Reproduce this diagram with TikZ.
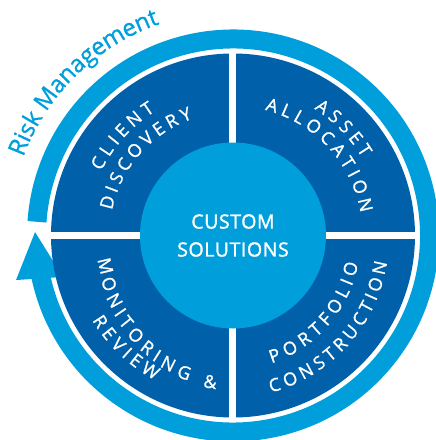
\documentclass[tikz,border=0pt]{standalone}
\usepackage{fontspec}
\setmainfont{Open Sans}[UprightFeatures={FakeBold=1}]
\newfontfamily\hubfont{Open Sans}[LetterSpace=3, UprightFeatures={FakeBold=1.6}]

\definecolor{ringblue}{RGB}{0,159,220}
\definecolor{deepblue}{RGB}{0,96,169}
\newcommand{\quadfont}{\fontsize{18}{20}\selectfont}
\newcommand{\riskfont}{\fontsize{24}{26}\selectfont}

\tikzset{
  arcglyph/.style={inner sep=0pt, outer sep=0pt, anchor=base},
}

% letters set one by one on a circle round the origin
% #1 name, #2 font, #3 radius of letter middles, #4 radius change per degree,
% #5 centre angle, #6 direction (-1 clockwise, 1 anticlockwise), #7 tracking, #8 colour, #9 letters
\newdimen\chw
\newcommand{\measureglyph}[2]{%
  \pgfinterruptpicture\settowidth{\chw}{#1#2}\xdef\cw{\the\chw}%
  \settoheight{\chw}{#1X}\xdef\capht{\the\chw}\endpgfinterruptpicture}
\newcommand{\arcword}[9]{%
  \gdef\wtot{0}%
  \foreach \ch in {#9}{%
    \measureglyph{#2}{\ch}%
    \pgfmathparse{\wtot+\cw+#7}\xdef\wtot{\pgfmathresult}%
  }%
  \pgfmathparse{\wtot-#7}\xdef\wtot{\pgfmathresult}%
  \gdef\wrun{0}%
  \foreach \ch [count=\i] in {#9}{%
    \measureglyph{#2}{\ch}%
    \pgfmathsetmacro\ang{#5+#6*(\wrun+\cw/2-\wtot/2)/#3*57.29578}%
    \pgfmathsetmacro\rad{#3+#4*(\ang-#5)+#6*\capht/2}%
    \node[arcglyph, font=#2, text=#8, rotate=\ang+#6*90] (#1-\i) at (\ang:\rad) {\ch};%
    \pgfmathparse{\wrun+\cw+#7}\xdef\wrun{\pgfmathresult}%
  }%
}

\begin{document}
\begin{tikzpicture}[x=1pt, y=1pt]
    \useasboundingbox (-233,-204.5) rectangle (203,235.5);

    % Outer ring with arrow
    \draw[ringblue, line width=19pt] (192:196.5) arc[start angle=192, end angle=536, radius=196.5];
    \fill[ringblue] (179:198) -- (191.6:221.5) -- (193.7:175) -- cycle;
    \arcword{risk}{\riskfont}{232.5}{0}{134.3}{-1}{0.3}{ringblue}{R,i,s,k,~,M,a,n,a,g,e,m,e,n,t}

    % Wheel and separators
    \node[circle, fill=deepblue, minimum size=364pt, inner sep=0pt] (wheel) at (0,0) {};
    \foreach \a in {0,90,180,270}
        \draw[white, line width=7pt] (wheel.center) -- (wheel.\a);

    % Centre
    \node[circle, fill=ringblue, minimum size=186pt, inner sep=0pt, text=white, align=center,
        font=\hubfont\fontsize{19.5}{28}\selectfont] (hub) at (wheel.center) {CUSTOM\\SOLUTIONS};

    % Quadrant labels
    \arcword{client}{\quadfont}{153}{0}{138}{-1}{5.1}{white}{C,L,I,E,N,T}
    \arcword{discovery}{\quadfont}{130}{0}{138.6}{-1}{4.8}{white}{D,I,S,C,O,V,E,R,Y}
    \arcword{asset}{\quadfont}{157}{0}{44.2}{-1}{5.1}{white}{A,S,S,E,T}
    \arcword{allocation}{\quadfont}{136}{0}{42.9}{-1}{5.1}{white}{A,L,L,O,C,A,T,I,O,N}
    \arcword{monitoring}{\quadfont}{139.5}{0.25}{227}{1}{4.2}{white}{M,O,N,I,T,O,R,I,N,G,~,\&}
    \arcword{review}{\quadfont}{158}{0}{226.3}{1}{4.2}{white}{R,E,V,I,E,W}
    \arcword{portfolio}{\quadfont}{124.5}{-0.09}{317}{1}{4.3}{white}{P,O,R,T,F,O,L,I,O}
    \arcword{construction}{\quadfont}{152.5}{-0.08}{316.8}{1}{3.7}{white}{C,O,N,S,T,R,U,C,T,I,O,N}
\end{tikzpicture}
\end{document}
